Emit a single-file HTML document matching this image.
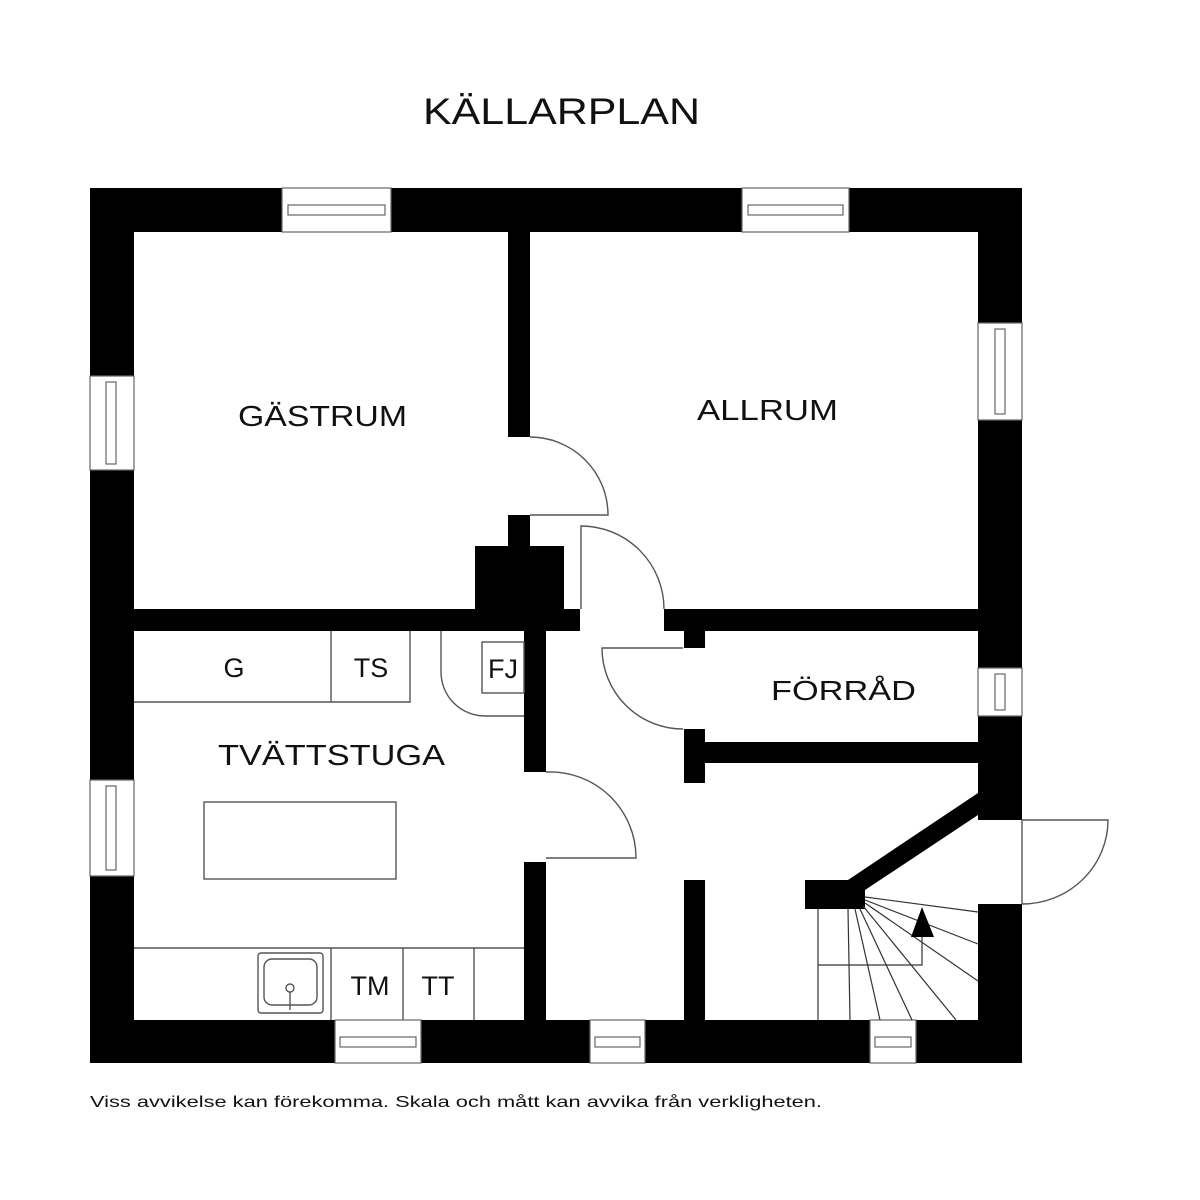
<!DOCTYPE html>
<html><head><meta charset="utf-8"><style>
html,body{margin:0;padding:0;background:#fff;}
svg{display:block;}
text{font-family:"Liberation Sans","DejaVu Sans",sans-serif;fill:#111;}
</style></head><body>
<svg width="1200" height="1200" viewBox="0 0 1200 1200" xmlns="http://www.w3.org/2000/svg">
<rect width="1200" height="1200" fill="#fff"/>
<g fill="#000">
<rect x="90" y="188" width="932" height="44"/>
<rect x="90" y="1020" width="932" height="43"/>
<rect x="90" y="188" width="44" height="875"/>
<rect x="978" y="188" width="44" height="632"/>
<rect x="978" y="904" width="44" height="159"/>
<rect x="508" y="232" width="22" height="205"/>
<rect x="508" y="515" width="22" height="35"/>
<rect x="475" y="546" width="89" height="64"/>
<rect x="134" y="609" width="446" height="22"/>
<rect x="524" y="609" width="22" height="163"/>
<rect x="524" y="862" width="22" height="160"/>
<rect x="664" y="609" width="316" height="22"/>
<rect x="684" y="609" width="21" height="39"/>
<rect x="684" y="729" width="21" height="54"/>
<rect x="684" y="742" width="296" height="21"/>
<rect x="684" y="880" width="21" height="142"/>
<rect x="805" y="880" width="60" height="29"/>
<polygon points="978,793 978,815 865,890 848,890 848,880"/>
</g>
<g fill="#fff" stroke="#666" stroke-width="1.2">
<rect x="282" y="188" width="109" height="44"/>
<rect x="288" y="205" width="97" height="10" fill="none"/>
<rect x="742" y="188" width="107" height="44"/>
<rect x="748" y="205" width="95" height="10" fill="none"/>
<rect x="90" y="376" width="44" height="94"/>
<rect x="106" y="382" width="10" height="82" fill="none"/>
<rect x="90" y="780" width="44" height="96"/>
<rect x="106" y="786" width="10" height="84" fill="none"/>
<rect x="978" y="323" width="44" height="97"/>
<rect x="995" y="329" width="10" height="85" fill="none"/>
<rect x="978" y="668" width="44" height="48"/>
<rect x="995" y="674" width="10" height="36" fill="none"/>
<rect x="335" y="1020" width="86" height="43"/>
<rect x="340" y="1037" width="76" height="10" fill="none"/>
<rect x="590" y="1020" width="55" height="43"/>
<rect x="595" y="1037" width="45" height="10" fill="none"/>
<rect x="870" y="1020" width="46" height="43"/>
<rect x="875" y="1037" width="36" height="10" fill="none"/>
</g>
<g fill="none" stroke="#555" stroke-width="1.4">
<path d="M530,437 A78,78 0 0 1 608,515 L530,515"/>
<path d="M581,609 L581,526 A83,83 0 0 1 664,609"/>
<path d="M683,648 L602,648 A81,81 0 0 0 683,729"/>
<path d="M546,772 A86,86 0 0 1 636,858 L546,858"/>
<path d="M1022,904 L1022,820 L1108,820 A86,84 0 0 1 1022,904"/>
<path d="M134,702 L410,702 L410,631"/>
<path d="M331,631 L331,702"/>
<path d="M441,631 L441,672 A44,44 0 0 0 485,716 L524,716"/>
<rect x="482" y="642" width="42" height="51"/>
<rect x="204" y="802" width="192" height="77"/>
<path d="M134,948 L524,948"/>
<path d="M331,948 L331,1020 M403,948 L403,1020 M474,948 L474,1020"/>
<rect x="258" y="953" width="65" height="60" rx="3"/>
<rect x="264" y="959" width="53" height="46" rx="8"/>
<circle cx="290" cy="988" r="4"/>
<path d="M290,992 L290,1010"/>
<g stroke="#333" stroke-width="1.2">
<path d="M818,909 L818,1020"/>
<path d="M818,965 L922,965 L922,935"/>
<path d="M848,909 L850,1020"/>
<path d="M855,909 L880,1020"/>
<path d="M860,909 L912,1020"/>
<path d="M863,906 L956,1020"/>
<path d="M865,903 L978,981"/>
<path d="M865,900 L978,944"/>
<path d="M865,897 L978,912"/>
</g>
</g>
<polygon points="922,907 911,937 934,937" fill="#000"/>
<text x="423" y="124" font-size="37" textLength="277" lengthAdjust="spacingAndGlyphs">KÄLLARPLAN</text>
<text x="238" y="426" font-size="29" textLength="169" lengthAdjust="spacingAndGlyphs">GÄSTRUM</text>
<text x="697" y="420" font-size="29" textLength="141" lengthAdjust="spacingAndGlyphs">ALLRUM</text>
<text x="771" y="700" font-size="28" textLength="145" lengthAdjust="spacingAndGlyphs">FÖRRÅD</text>
<text x="218" y="765" font-size="29" textLength="227" lengthAdjust="spacingAndGlyphs">TVÄTTSTUGA</text>
<text x="234" y="677" font-size="27" text-anchor="middle">G</text>
<text x="371" y="677" font-size="27" text-anchor="middle">TS</text>
<text x="503" y="678" font-size="27" text-anchor="middle">FJ</text>
<text x="370" y="995" font-size="27" text-anchor="middle">TM</text>
<text x="438" y="995" font-size="27" text-anchor="middle">TT</text>
<text x="90" y="1107" font-size="16" textLength="732" lengthAdjust="spacingAndGlyphs">Viss avvikelse kan förekomma. Skala och mått kan avvika från verkligheten.</text>
</svg>
</body></html>
